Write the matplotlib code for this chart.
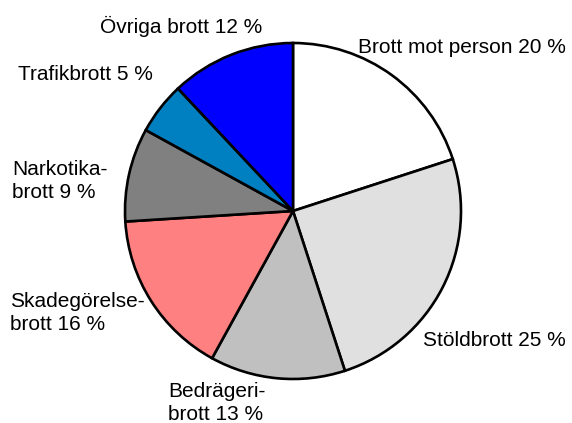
import matplotlib
matplotlib.use('Agg')
import matplotlib.pyplot as plt

plt.rcParams['font.family'] = ['Liberation Sans', 'DejaVu Sans']

# data
categories = ['Brott mot person', 'Stöldbrott', 'Bedrägeri-\nbrott', 'Skadegörelse-\nbrott',
              'Narkotika-\nbrott', 'Trafikbrott', 'Övriga brott']
shares = [20, 25, 13, 16, 9, 5, 12]
colors = ['#ffffff', '#e0e0e0', '#c0c0c0', '#ff8080', '#808080', '#0080c0', '#0000ff']

# label anchors in pixels (left, baseline of first line)
label_pos = [(358, 53), (423, 346), (168, 397), (10, 307), (12, 175), (18, 80), (100, 33)]

W, H = 572, 423
fig = plt.figure(figsize=(W / 100, H / 100), dpi=100)

cx, cy, r = 293, 211, 168
ax = fig.add_axes([(cx - r) / W, (H - cy - r) / H, 2 * r / W, 2 * r / H])
ax.pie(shares, colors=colors, startangle=90, counterclock=False,
       wedgeprops=dict(edgecolor='black', linewidth=1.9))
ax.set_xlim(-1.0, 1.0)
ax.set_ylim(-1.0, 1.0)

for cat, val, (px, py) in zip(categories, shares, label_pos):
    text = f'{cat} {val} %'
    for i, line in enumerate(text.split('\n')):
        fig.text(px / W, 1 - (py + i * 23) / H, line, fontsize=15,
                 ha='left', va='baseline', color='black')

fig.savefig('out.png', dpi=100)
